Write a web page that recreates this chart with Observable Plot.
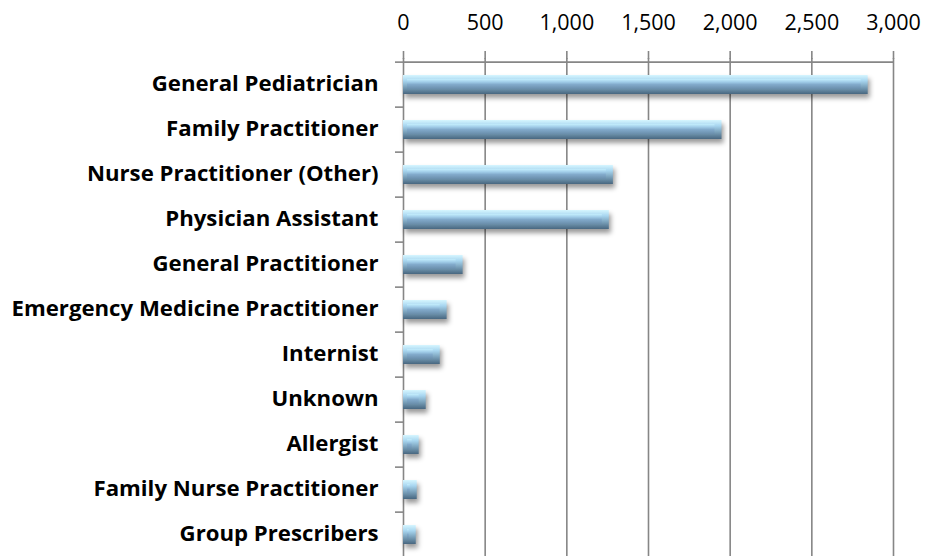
<!DOCTYPE html>
<html>
<head>
<meta charset="utf-8">
<script src="https://cdn.jsdelivr.net/npm/d3@7"></script>
<script src="https://cdn.jsdelivr.net/npm/@observablehq/plot@0.6"></script>
<style>
  html, body { margin: 0; padding: 0; background: #fff; }
  #chart svg { display: block; }
</style>
</head>
<body>
<div id="chart"></div>
<script>
const categories = [
  "General Pediatrician",
  "Family Practitioner",
  "Nurse Practitioner (Other)",
  "Physician Assistant",
  "General Practitioner",
  "Emergency Medicine Practitioner",
  "Internist",
  "Unknown",
  "Allergist",
  "Family Nurse Practitioner",
  "Group Prescribers"
];
const values = [2845, 1950, 1285, 1260, 365, 267, 225, 139, 96, 84, 78];
const xTicks = [0, 500, 1000, 1500, 2000, 2500, 3000];

const data = categories.map((c, i) => ({category: c, value: values[i]}));

const W = 925, H = 556, MT = 58, MB = -5, ML = 403, MR = 32;
const step = (H - MB - MT) / categories.length;
const gridColor = "#868686";

const defs = () => {
  const d = d3.create("svg:defs");
  const g1 = d.append("linearGradient").attr("id", "outerGrad").attr("x1", 0).attr("y1", 0).attr("x2", 0).attr("y2", 1);
  g1.append("stop").attr("offset", "0%").attr("stop-color", "#d6f6ff");
  g1.append("stop").attr("offset", "30%").attr("stop-color", "#a8d6f0");
  g1.append("stop").attr("offset", "100%").attr("stop-color", "#486780");
  const g2 = d.append("linearGradient").attr("id", "innerGrad").attr("x1", 0).attr("y1", 0).attr("x2", 0).attr("y2", 1);
  g2.append("stop").attr("offset", "0%").attr("stop-color", "#c4eefd");
  g2.append("stop").attr("offset", "30%").attr("stop-color", "#a0cce8");
  g2.append("stop").attr("offset", "55%").attr("stop-color", "#82aacb");
  g2.append("stop").attr("offset", "100%").attr("stop-color", "#6a8eab");
  return d.node();
};

const chart = Plot.plot({
  width: W,
  height: H,
  marginTop: MT,
  marginBottom: MB,
  marginLeft: ML,
  marginRight: MR,
  style: {fontFamily: "'Open Sans', Lato, sans-serif", color: "#000", background: "#fff", overflow: "visible"},
  x: {domain: [0, 3000], axis: null},
  y: {domain: categories, paddingInner: 0.585, paddingOuter: 0.2925, axis: null},
  marks: [
    defs,
    Plot.gridX(xTicks, {stroke: gridColor, strokeOpacity: 1, strokeWidth: 1.6}),
    Plot.ruleY([categories[0]], {dy: -step / 2, stroke: gridColor, strokeWidth: 1.6}),
    Plot.axisX(xTicks, {
      anchor: "top", label: null, tickSize: 8, tickPadding: 21, tickFormat: d3.format(","),
      stroke: gridColor, strokeWidth: 1.6, fontSize: 21.5, fill: "#000"
    }),
    Plot.axisY({
      label: null, tickSize: 8, tickFormat: () => "", dy: -step / 2,
      stroke: gridColor, strokeWidth: 1.6
    }),
    Plot.barX(data, {x: "value", y: "category", fill: "url(#outerGrad)"}),
    Plot.barX(data, {x: "value", y: "category", fill: "url(#innerGrad)",
      insetTop: 4, insetBottom: 5, insetLeft: 4, insetRight: 7}),
    Plot.axisY({
      label: null, tickSize: 0, tickPadding: 25, dy: -1.5, fontSize: 22.2, fontWeight: "bold", fill: "#000"
    })
  ]
});

document.getElementById("chart").appendChild(chart);
const barGroups = d3.select(chart).selectAll('g[aria-label="bar"]');
barGroups.filter((d, i) => i === 0).style("filter", "drop-shadow(2px 4px 2.5px rgba(0,0,0,0.4))");
</script>
</body>
</html>
